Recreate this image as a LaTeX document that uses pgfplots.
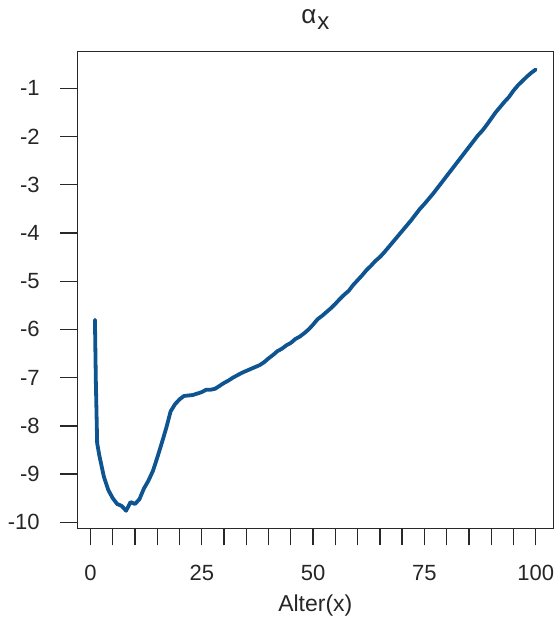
\documentclass[border=0pt]{standalone}
\usepackage{pgfplots}
\pgfplotsset{compat=1.18}
\usepackage{fontspec}
\setmainfont{Liberation Sans}
\definecolor{rblue}{RGB}{14,84,145}
\definecolor{axgray}{RGB}{40,40,40}
\begin{document}
\begin{tikzpicture}
\path[use as bounding box] (0,0) rectangle (557pt,620pt);
\begin{axis}[
  at={(77.3pt,91.7pt)}, anchor=south west,
  scale only axis, width=476pt, height=476.6pt,
  xmin=-2.96, xmax=103.96, ymin=-10.124, ymax=-0.241,
  axis line style={axgray, line width=1.3pt},
  tick style={axgray, line width=1.3pt},
  tick align=outside, major tick length=17pt,
  xtick pos=bottom, ytick pos=left,
  xtick={0,5,...,100},
  xticklabels={0,,,,,25,,,,,50,,,,,75,,,,,100},
  ytick={-10,-9,...,-1},
  yticklabels={-10,-9,-8,-7,-6,-5,-4,-3,-2,-1},
  ticklabel style={font=\fontsize{22}{26}\selectfont, text=black!85},
  xticklabel style={anchor=north, inner sep=0pt, yshift=-20pt},
  yticklabel style={anchor=east, inner sep=0pt, xshift=-20.5pt},
  xlabel={Alter(x)},
  xlabel style={font=\fontsize{23}{27}\selectfont, text=black!85, at={(axis description cs:0.5,0)}, anchor=base, yshift=-83.4pt, inner sep=0pt},
  title={α\kern1pt\raisebox{-6pt}{\fontsize{24}{28}\selectfont x}},
  title style={font=\fontsize{26}{30}\selectfont, text=black!85, at={(axis description cs:0.5,1)}, anchor=base, yshift=21.7pt, inner sep=0pt},
  clip=false,
]
\addplot[rblue, line width=3.8pt, line join=round, line cap=round] coordinates {
(1,-5.80)(1.2,-7.05)(1.5,-8.36)(2,-8.62)(3,-9.05)(4,-9.33)(5,-9.50)(6,-9.62)(7,-9.66)(8,-9.76)(9,-9.58)(10,-9.62)
(11,-9.52)(12,-9.30)(13,-9.14)(14,-8.94)(15,-8.66)(16,-8.36)(17,-8.05)(18,-7.70)(19,-7.55)(20,-7.45)
(21,-7.38)(22,-7.37)(23,-7.36)(24,-7.33)(25,-7.30)(26,-7.25)(27,-7.25)(28,-7.23)(29,-7.17)(30,-7.11)
(31,-7.06)(32,-7.00)(33,-6.95)(34,-6.90)(35,-6.86)(36,-6.82)(37,-6.78)(38,-6.74)(39,-6.68)(40,-6.60)
(41,-6.53)(42,-6.45)(43,-6.40)(44,-6.33)(45,-6.28)(46,-6.20)(47,-6.15)(48,-6.08)(49,-6.00)(50,-5.90)
(51,-5.79)(52,-5.72)(53,-5.64)(54,-5.56)(55,-5.47)(56,-5.37)(57,-5.28)(58,-5.20)(59,-5.08)(60,-4.98)
(61,-4.88)(62,-4.77)(63,-4.68)(64,-4.58)(65,-4.50)(66,-4.40)(67,-4.29)(68,-4.18)(69,-4.07)(70,-3.96)
(71,-3.85)(72,-3.74)(73,-3.62)(74,-3.50)(75,-3.40)(76,-3.29)(77,-3.18)(78,-3.06)(79,-2.94)(80,-2.82)
(81,-2.70)(82,-2.58)(83,-2.46)(84,-2.34)(85,-2.22)(86,-2.10)(87,-1.98)(88,-1.88)(89,-1.76)(90,-1.63)
(91,-1.50)(92,-1.39)(93,-1.28)(94,-1.18)(95,-1.05)(96,-0.94)(97,-0.85)(98,-0.76)(99,-0.68)(100,-0.61)
};
\end{axis}
\end{tikzpicture}
\end{document}
